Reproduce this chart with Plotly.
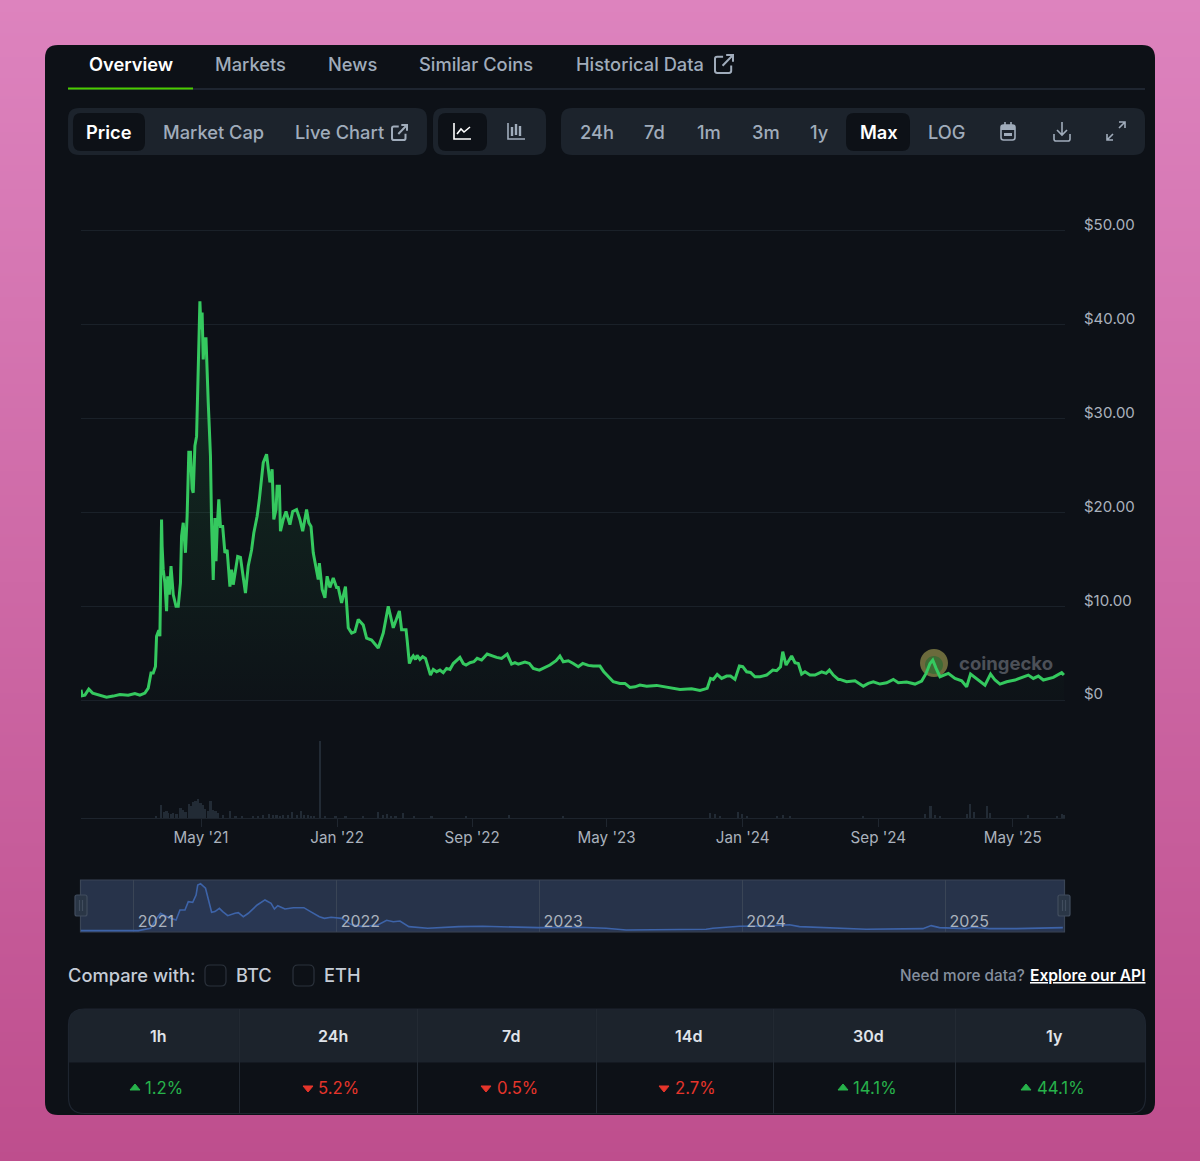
import pandas as pd
import plotly.graph_objects as go

W, H = 1200, 1161
start = pd.Timestamp("2020-09-27")

# price, days since start / USD
price_days = [0, 2, 7, 14, 21, 31, 46, 58, 70, 85, 97, 106, 115, 121, 126, 130, 134, 136, 140, 142, 145, 146, 148, 151,
              154, 156, 159, 162, 166, 171, 175, 179, 181, 184, 188, 191, 194, 197, 200, 202, 203, 205, 208, 211, 214,
              216, 218, 220, 222, 225, 226, 229, 231, 233, 235, 238, 241, 243, 245, 248, 251, 255, 259, 263, 268, 271,
              274, 278, 282, 287, 291, 296, 301, 307, 311, 317, 321, 325, 328, 334, 337, 340, 344, 347, 351, 353, 357,
              359, 364, 369, 376, 381, 388, 394, 399, 406, 410, 414, 418, 423, 427, 429, 434, 439, 443, 448, 454, 460,
              463, 469, 476, 481, 487, 493, 499, 508, 514, 523, 535, 544, 553, 562, 573, 577, 585, 587, 591, 595, 598,
              602, 605, 610, 615, 620, 625, 629, 634, 640, 646, 652, 658, 664, 670, 676, 682, 688, 693, 700, 707, 713,
              721, 731, 739, 748, 757, 767, 775, 781, 787, 799, 807, 814, 825, 835, 844, 855, 862, 868, 877, 886, 895,
              903, 913, 922, 934, 941, 949, 958, 970, 979, 988, 997, 1006, 1018, 1036, 1051, 1060, 1078, 1099, 1114,
              1127, 1133, 1138, 1145, 1153, 1162, 1169, 1177, 1185, 1191, 1198, 1205, 1213, 1222, 1234, 1245, 1252,
              1259, 1263, 1269, 1279, 1285, 1291, 1297, 1303, 1312, 1321, 1333, 1341, 1347, 1354, 1363, 1366, 1378,
              1393, 1408, 1417, 1426, 1438, 1450, 1462, 1471, 1486, 1501, 1513, 1521, 1528, 1533, 1539, 1546, 1561,
              1573, 1585, 1594, 1601, 1609, 1618, 1627, 1637, 1645, 1654, 1666, 1681, 1693, 1705, 1714, 1723, 1732,
              1750, 1765, 1769]
price_usd = [1.10, 0.46, 0.53, 1.17, 0.75, 0.57, 0.32, 0.43, 0.60, 0.53, 0.71, 0.53, 0.75, 1.28, 2.88, 2.88, 3.59, 6.8,
             7.44, 6.8, 19.25, 16.4, 13.9, 12.5, 9.47, 13.2, 11.25, 14.27, 11.25, 10.0, 10.0, 12.5, 17.47, 18.9, 15.7,
             19.6, 26.4, 26.4, 22.5, 22.1, 24.4, 27.1, 28.1, 36.7, 42.5, 39.5, 41.3, 36.3, 38.5, 38.5, 36.0, 31.7, 28.9,
             26.0, 18.9, 12.8, 19.4, 14.8, 18.2, 21.4, 18.5, 18.5, 15.7, 16.0, 12.1, 13.9, 12.3, 13.6, 15.3, 15.2, 13.6,
             11.4, 14.3, 16.0, 17.8, 19.6, 21.4, 23.5, 25.3, 26.2, 24.9, 23.2, 24.6, 19.25, 20.3, 22.8, 22.8, 18.0,
             19.25, 20.1, 18.7, 20.1, 20.3, 19.25, 18.0, 20.3, 18.9, 18.5, 15.7, 14.3, 12.85, 14.6, 11.8, 10.9, 13.2,
             12.0, 13.0, 12.0, 12.0, 10.35, 12.1, 7.7, 7.15, 7.3, 8.6, 8.0, 6.6, 6.4, 5.55, 7.15, 10.0, 7.7, 9.5, 7.5,
             7.5, 6.4, 3.9, 4.45, 4.7, 4.34, 4.77, 4.34, 4.63, 4.45, 3.38, 2.67, 3.27, 3.02, 3.2, 2.92, 3.38, 3.27, 3.9,
             4.2, 4.55, 3.9, 3.74, 3.99, 4.09, 4.45, 4.27, 4.91, 4.7, 4.55, 4.45, 4.91, 3.84, 3.99, 3.84, 4.06, 3.91,
             3.38, 3.2, 3.49, 3.74, 4.2, 4.7, 4.09, 4.2, 3.91, 3.56, 3.91, 3.7, 3.63, 3.63, 3.02, 2.49, 1.96, 1.78, 1.78,
             1.35, 1.42, 1.6, 1.49, 1.57, 1.42, 1.25, 1.14, 1.21, 1.03, 1.25, 2.31, 2.21, 2.74, 2.31, 2.56, 2.56, 2.21,
             3.63, 3.56, 3.02, 2.95, 2.49, 2.49, 2.67, 3.2, 3.13, 3.56, 5.16, 3.74, 4.7, 3.99, 3.91, 2.78, 3.02, 2.67,
             2.67, 3.02, 2.85, 3.2, 2.67, 2.21, 2.21, 1.96, 2.06, 1.49, 1.78, 1.96, 1.71, 1.85, 2.21, 1.85, 1.92, 1.71,
             2.03, 2.85, 3.91, 4.27, 3.38, 2.49, 2.85, 2.31, 2.06, 1.42, 2.78, 2.42, 2.06, 1.6, 2.78, 2.14, 1.71, 1.96,
             2.14, 2.42, 2.67, 2.31, 2.56, 2.14, 2.42, 2.92, 2.67]

# volume, days since start / million USD
volume_days = [135, 144, 149, 154, 157, 163, 166, 172, 179, 184, 188, 194, 198, 202, 206, 211, 215, 219, 223, 228, 233,
               238, 242, 247, 256, 268, 278, 290, 309, 318, 327, 339, 345, 352, 358, 364, 372, 380, 389, 396, 402, 408,
               414, 420, 430, 439, 458, 476, 507, 535, 543, 551, 558, 566, 579, 600, 631, 693, 770, 867, 1132, 1141,
               1150, 1183, 1189, 1198, 1252, 1264, 1276, 1408, 1519, 1529, 1537, 1546, 1594, 1600, 1607, 1630, 1636,
               1705, 1756, 1765, 1769]
volume_musd = [38, 325, 150, 175, 125, 100, 125, 100, 250, 200, 150, 350, 300, 400, 425, 475, 375, 325, 225, 175, 425,
               200, 175, 125, 75, 175, 50, 38, 50, 50, 75, 100, 75, 75, 50, 75, 75, 150, 75, 175, 75, 75, 50, 50, 1925,
               50, 38, 50, 38, 150, 75, 88, 50, 50, 125, 50, 38, 38, 75, 50, 125, 100, 50, 150, 100, 50, 50, 75, 50, 50,
               100, 300, 75, 50, 100, 350, 150, 300, 125, 75, 50, 100, 75]

# overview series in the range selector
nav_days = [0, 60, 104, 126, 135, 144, 157, 172, 179, 188, 194, 202, 208, 211, 216, 225, 230, 236, 242, 250, 256, 265,
            278, 284, 293, 302, 318, 332, 343, 349, 355, 368, 383, 402, 414, 430, 439, 451, 470, 486, 507, 535, 551,
            563, 575, 591, 625, 681, 724, 774, 824, 898, 946, 982, 1126, 1138, 1186, 1234, 1276, 1294, 1354, 1414,
            1516, 1531, 1546, 1594, 1606, 1636, 1684, 1768]
nav_usd = [0.3, 0.2, 0.3, 2.4, 9.8, 15.8, 12.2, 9.8, 18.7, 18.7, 26.2, 25.6, 32.1, 41.1, 42.3, 38.1, 27.7, 16.7, 17.3,
           20.2, 17.3, 13.7, 15.8, 16.4, 12.8, 15.8, 23.2, 27.7, 24.7, 19.6, 22.6, 19.6, 20.8, 20.8, 17.3, 12.8, 11.3,
           12.2, 11.3, 6.0, 3.9, 5.4, 9.5, 8.3, 8.9, 3.9, 2.4, 3.9, 4.2, 3.9, 3.0, 3.3, 2.4, 0.9, 1.5, 2.4, 4.2, 4.5,
           5.6, 3.9, 3.0, 1.5, 2.1, 4.8, 3.0, 2.1, 3.3, 2.1, 2.1, 3.0]

y_tick_vals = [0, 10, 20, 30, 40, 50]
y_tick_text = ["$0", "$10.00", "$20.00", "$30.00", "$40.00", "$50.00"]

tabs = ["Overview", "Markets", "News", "Similar Coins", "Historical Data"]
ranges = ["24h", "7d", "1m", "3m", "1y", "Max", "LOG"]
period_labels = ["1h", "24h", "7d", "14d", "30d", "1y"]
period_changes = [1.2, -5.2, -0.5, -2.7, 14.1, 44.1]


def to_dates(days):
    return start + pd.to_timedelta(days, unit="D")


def px(x):
    return x / W


def py(y):
    return 1 - y / H


def path(d):
    # page pixels -> paper coordinates
    out, is_x = [], True
    for tok in d.split():
        if tok.isalpha():
            out.append(tok)
            is_x = True
        else:
            out.append(f"{px(float(tok)):.5f}" if is_x else f"{py(float(tok)):.5f}")
            is_x = not is_x
    return " ".join(out)


def rr(x0, y0, x1, y1, r, top_only=False):
    if top_only:
        return (f"M {x0} {y1} L {x0} {y0 + r} Q {x0} {y0} {x0 + r} {y0} L {x1 - r} {y0} "
                f"Q {x1} {y0} {x1} {y0 + r} L {x1} {y1} Z")
    return (f"M {x0 + r} {y0} L {x1 - r} {y0} Q {x1} {y0} {x1} {y0 + r} L {x1} {y1 - r} Q {x1} {y1} {x1 - r} {y1} "
            f"L {x0 + r} {y1} Q {x0} {y1} {x0} {y1 - r} L {x0} {y0 + r} Q {x0} {y0} {x0 + r} {y0} Z")


def disc(cx, cy, r):
    k = r * 0.5523
    return (f"M {cx - r} {cy} C {cx - r} {cy - k} {cx - k} {cy - r} {cx} {cy - r} "
            f"C {cx + k} {cy - r} {cx + r} {cy - k} {cx + r} {cy} "
            f"C {cx + r} {cy + k} {cx + k} {cy + r} {cx} {cy + r} "
            f"C {cx - k} {cy + r} {cx - r} {cy + k} {cx - r} {cy} Z")


shapes = []
notes = []


def shape(d, fill=None, line=None, width=1.5):
    shapes.append(dict(type="path", xref="paper", yref="paper", layer="below", path=path(d),
                       fillcolor=fill or "rgba(0,0,0,0)",
                       line=dict(color=line or "rgba(0,0,0,0)", width=width if line else 0)))


def text(x, y, s, size=18.3, color="#a0acbb", weight=500, anchor="center", under=False):
    font = dict(family="Inter", size=size, color=color, weight=weight)
    if under:
        font["lineposition"] = "under"
    notes.append(dict(xref="paper", yref="paper", x=px(x), y=py(y), text=s, showarrow=False, xanchor=anchor,
                      yanchor="middle", font=font, borderpad=0, borderwidth=0))


def ext_icon(x, y, s, color):
    # external link glyph, s = box size
    shape(f"M {x + s * .45} {y + s * .1} L {x + s * .12} {y + s * .1} Q {x} {y + s * .1} {x} {y + s * .22} "
          f"L {x} {y + s * .88} Q {x} {y + s} {x + s * .12} {y + s} L {x + s * .78} {y + s} "
          f"Q {x + s * .9} {y + s} {x + s * .9} {y + s * .88} L {x + s * .9} {y + s * .58}", line=color, width=2)
    shape(f"M {x + s * .42} {y + s * .6} L {x + s} {y} M {x + s * .62} {y} L {x + s} {y} L {x + s} {y + s * .38}",
          line=color, width=2)


# page background
top_c, bot_c = (221, 131, 190), (190, 78, 141)
band = 3
for y in range(0, H, band):
    t = y / H
    c = [round(a + (b - a) * t) for a, b in zip(top_c, bot_c)]
    shape(f"M 0 {y} L {W} {y} L {W} {y + band + 1} L 0 {y + band + 1} Z", fill=f"rgb({c[0]},{c[1]},{c[2]})")

PANEL = "#0d1117"
BAR = "#1c232c"
MUTED = "#a0acbb"
shape(rr(45, 45, 1155, 1115, 13), fill=PANEL)

# tabs
shape("M 68 89 L 1145 89", line="#1e2530", width=2)
shape("M 68 88.5 L 193 88.5", line="#4bcc00", width=2)
for cx, tab in zip([130.5, 250, 352, 476, 640], tabs):
    text(cx, 64, tab, color="#ffffff" if tab == "Overview" else MUTED, weight=600 if tab == "Overview" else 500)
ext_icon(715, 55, 18, MUTED)

# button groups
shape(rr(68, 108, 427, 155, 11), fill=BAR)
shape(rr(433, 108, 546, 155, 11), fill=BAR)
shape(rr(561, 108, 1145, 155, 11), fill=BAR)
shape(rr(73, 113, 145, 151, 8), fill=PANEL)
shape(rr(438, 113, 487, 151, 8), fill=PANEL)
shape(rr(846, 113, 910, 151, 8), fill=PANEL)
text(109, 132, "Price", color="#ffffff", weight=600)
text(213.5, 132, "Market Cap")
text(339.5, 132, "Live Chart")
ext_icon(392, 125, 15, MUTED)
for cx, label in zip([597, 655, 708.5, 765.5, 819, 878.5, 947], ranges):
    text(cx, 132, label, color="#ffffff" if label == "Max" else MUTED, weight=600 if label == "Max" else 500)

# toolbar icons
shape("M 454 123 L 454 139 L 471 139", line="#ffffff", width=1.6)
shape("M 457 134 L 461 129 L 464 132 L 470 127", line="#ffffff", width=1.6)
shape("M 508 123 L 508 139 L 525 139", line=MUTED, width=1.6)
for bx, y0, y1 in [(512, 127, 136), (516, 124, 135), (520, 126, 136)]:
    shape(f"M {bx} {y0} L {bx} {y1}", line=MUTED, width=2.4)
shape(rr(1001, 125, 1015, 140, 2.5), line=MUTED, width=1.6)
shape("M 1001 125 L 1015 125 L 1015 130 L 1001 130 Z", fill=MUTED)
shape("M 1005 122 L 1005 126 M 1011 122 L 1011 126", line=MUTED, width=1.6)
shape("M 1004 133 L 1012 133 L 1012 136 L 1004 136 Z", fill=MUTED)
shape("M 1062 122 L 1062 134 M 1057 130 L 1062 135 L 1067 130", line=MUTED, width=1.6)
shape("M 1054 134 L 1054 139 Q 1054 141 1056 141 L 1068 141 Q 1070 141 1070 139 L 1070 134", line=MUTED, width=1.6)
shape("M 1119 128 L 1125 122 M 1119 122 L 1125 122 L 1125 128", line=MUTED, width=1.6)
shape("M 1107 140 L 1113 134 M 1107 134 L 1107 140 L 1113 140", line=MUTED, width=1.6)

# watermark
shape(disc(934, 663, 14), fill="#6b6a3c")
shape(disc(934, 665, 9), fill="#3f6a35")
text(1005.5, 663, "coingecko", size=18.5, color="#4c5058", weight=700)

# range selector box
shape("M 80.5 880 L 1064.5 880 L 1064.5 932 L 80.5 932 Z", fill="#27334a", line="#3a4556", width=1.2)
for hx in [75, 1058]:
    shape(rr(hx, 895, hx + 12, 916, 2), fill="#2a3646", line="#414d5e", width=1.2)
    shape(f"M {hx + 4.5} 900 L {hx + 4.5} 911 M {hx + 7.5} 900 L {hx + 7.5} 911", line="#414d5e", width=1.2)

# compare row
text(68, 975, "Compare with:", color="#c5ccd6", anchor="left")
shape(rr(205, 965, 226, 986, 5), line="#2b323c", width=1.2)
shape(rr(293, 965, 314, 986, 5), line="#2b323c", width=1.2)
text(236, 975, "BTC", color="#c5ccd6", anchor="left")
text(324, 975, "ETH", color="#c5ccd6", anchor="left")
text(1025, 975, "Need more data?", size=15.3, color="#858f9e", anchor="right")
text(1145.5, 975, "Explore our API", size=15.6, color="#ffffff", weight=600, anchor="right", under=True)

# change table
shape(rr(68.5, 1009, 1145.5, 1062.5, 16, top_only=True), fill=BAR)
shape(rr(68.5, 1009, 1145.5, 1113.5, 16), line="#1e2530", width=1.2)
for sx in [239.5, 417.5, 596.5, 773.5, 955.5]:
    shape(f"M {sx} 1009 L {sx} 1113", line="#232a33", width=1)
GREEN, RED = "#27b24b", "#e5352b"
head_x = [158.5, 332.5, 510.5, 688, 868, 1054]
val_x = [164, 339, 517.5, 695, 874.5, 1060.5]
tri_x = [135, 308, 486, 664, 843, 1026]
for hx, vx, tx, label, chg in zip(head_x, val_x, tri_x, period_labels, period_changes):
    text(hx, 1036, label, size=16, color="#e0e4ea", weight=600)
    c = GREEN if chg >= 0 else RED
    text(vx, 1088, f"{abs(chg)}%", size=16.7, color=c, weight=400)
    if chg >= 0:
        shape(f"M {tx - 5} 1090 L {tx} 1084 L {tx + 5} 1090 Z", fill=c, line=c, width=1)
    else:
        shape(f"M {tx - 5} 1086 L {tx} 1092 L {tx + 5} 1086 Z", fill=c, line=c, width=1)

fig = go.Figure()
fig.add_trace(go.Bar(x=to_dates(volume_days), y=volume_musd, xaxis="x2", yaxis="y2",
                     width=4 * 86400000, marker=dict(color="#222b35", line=dict(width=0))))
fig.add_trace(go.Scatter(x=to_dates(price_days), y=price_usd, mode="lines", xaxis="x", yaxis="y",
                         line=dict(color="#35c95f", width=3), fill="tozeroy",
                         fillgradient=dict(type="vertical",
                                           colorscale=[[0, "rgba(53,201,95,0.01)"], [1, "rgba(53,201,95,0.17)"]])))
fig.add_trace(go.Scatter(x=to_dates(nav_days), y=nav_usd, mode="lines", xaxis="x3", yaxis="y3",
                         line=dict(color="#3d63a8", width=1.6), fill="tozeroy",
                         fillcolor="rgba(61,99,168,0.10)"))

x_range = [start, start + pd.Timedelta(days=1771)]
x_dom = [px(81), px(1065)]
fig.update_layout(
    width=W, height=H, margin=dict(l=0, r=0, t=0, b=0, pad=0), showlegend=False, hovermode=False,
    paper_bgcolor=PANEL, plot_bgcolor="rgba(0,0,0,0)", shapes=shapes, annotations=notes, bargap=0,
    font=dict(family="Inter", color="#aab2bd", size=15),
    xaxis=dict(domain=x_dom, type="date", range=x_range, anchor="y", showgrid=False, zeroline=False,
               showticklabels=False, automargin=False),
    # a little slack below 0 and above 50 so the end gridlines are kept
    yaxis=dict(domain=[py(702), py(229)], range=[-0.2, 50.2], side="right", anchor="x", tickvals=y_tick_vals,
               ticktext=y_tick_text, gridcolor="#1a2129", gridwidth=1.2, zeroline=False, showline=False, ticks="",
               ticklabelstandoff=18, ticklabelshift=-6, tickfont=dict(size=15, color="#aab2bd"), automargin=False),
    xaxis2=dict(domain=x_dom, type="date", range=x_range, anchor="y2", showgrid=False, zeroline=False,
                tick0="2021-05-01", dtick="M8", tickformat="%b '%y", ticks="outside", ticklen=8, tickwidth=1,
                tickcolor="#1f262f", showline=True, linecolor="#1d242d", linewidth=1, ticklabelstandoff=-2,
                tickfont=dict(size=15.2, color="#aab2bd"), automargin=False),
    yaxis2=dict(domain=[py(818), py(738)], range=[0, 2000], anchor="x2", visible=False, automargin=False),
    xaxis3=dict(domain=[px(80.5), px(1064.5)], type="date", range=x_range, anchor="y3", tick0="2021-01-01",
                dtick="M12", tickformat="%Y", showgrid=True, gridcolor="#3a4556", gridwidth=1, zeroline=False,
                ticks="", ticklabelposition="inside right", ticklabelshift=4, ticklabelstandoff=-4,
                tickfont=dict(size=16, color="#aab2bd"), automargin=False),
    yaxis3=dict(domain=[py(932), py(880)], range=[-0.9, 45.5], anchor="x3", visible=False, automargin=False),
)

fig.write_html("out.html", config=dict(displayModeBar=False),
               post_script="document.body.style.margin='0';document.body.style.overflow='hidden';")
